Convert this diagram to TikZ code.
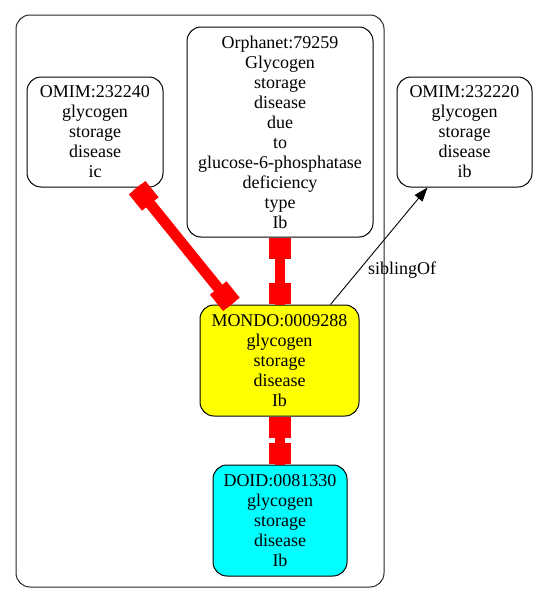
\documentclass[tikz,border=0pt]{standalone}
\usepackage{fontspec}
\setmainfont{Liberation Serif}
\usetikzlibrary{arrows.meta}
\definecolor{gvyellow}{RGB}{255,255,0}
\definecolor{gvcyan}{RGB}{0,255,255}
\definecolor{gvred}{RGB}{255,0,0}
\begin{document}
\begin{tikzpicture}[x=1pt,y=1pt,
  box/.style={draw=black, line width=1pt, rounded corners=14pt, inner sep=0pt, align=center,
    font=\fontsize{18}{20}\selectfont},
  rededge/.style={draw=gvred, line width=10.7pt},
  sq/.style={fill=gvred, minimum width=21pt, minimum height=21.3pt, inner sep=0pt, sloped, allow upside down},
  sib/.style={draw=black, line width=0.9pt, -{Triangle[length=14pt,width=10pt]}},
  lbl/.style={font=\fontsize{18}{20}\selectfont, inner sep=0pt}]
\useasboundingbox (0,0) rectangle (538,-603);
% cluster
\draw[line width=1pt, rounded corners=14pt, draw=black!85] (16,-15) rectangle (384,-587);
% nodes
\node[box, minimum width=136pt, minimum height=110pt] (omima) at (95,-132)
  {OMIM:232240\\glycogen\\storage\\disease\\ic};
\node[box, minimum width=186pt, minimum height=210pt] (orpha) at (280,-132)
  {Orphanet:79259\\Glycogen\\storage\\disease\\due\\to\\glucose-6-phosphatase\\deficiency\\type\\Ib};
\node[box, minimum width=135pt, minimum height=110pt] (omimb) at (464.5,-132)
  {OMIM:232220\\glycogen\\storage\\disease\\ib};
\node[box, fill=gvyellow, minimum width=159pt, minimum height=111pt] (mondo) at (279.5,-360.5)
  {MONDO:0009288\\glycogen\\storage\\disease\\Ib};
\node[box, fill=gvcyan, minimum width=134pt, minimum height=111pt] (doid) at (280,-520.5)
  {DOID:0081330\\glycogen\\storage\\disease\\Ib};
% red edges
\draw[rededge] ([xshift=42pt]omima.south) -- ([xshift=-48pt]mondo.north);
\path ([xshift=42pt]omima.south) -- ([xshift=-48pt]mondo.north)
  node[sq, pos=0, anchor=west] (s1a) {} node[sq, pos=1, anchor=east] (s1b) {};
\draw[rededge] (orpha.south) -- (orpha.south |- mondo.north);
\path (orpha.south) -- (orpha.south |- mondo.north)
  node[sq, pos=0, anchor=west] (s2a) {} node[sq, pos=1, anchor=east] (s2b) {};
\draw[rededge] (doid.north |- mondo.south) -- (doid.north);
\path (doid.north |- mondo.south) -- (doid.north)
  node[sq, pos=0, anchor=west] (s3a) {} node[sq, pos=1, anchor=east] (s3b) {};
% siblingOf
\draw[sib] ([xshift=51pt]mondo.north) -- ([xshift=-37pt]omimb.south);
\node[lbl] (siblbl) at (402,-270) {siblingOf};
\end{tikzpicture}
\end{document}
